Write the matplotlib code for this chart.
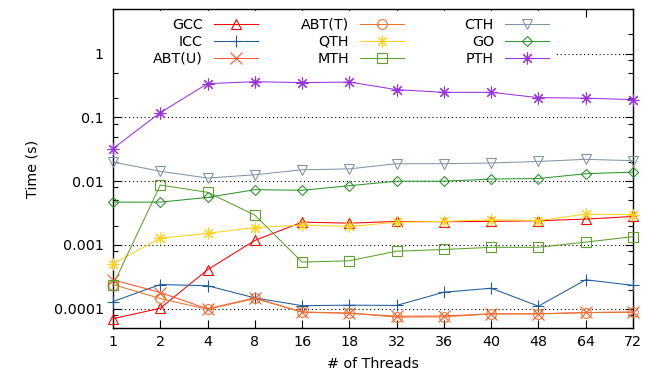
import matplotlib
matplotlib.use("Agg")
import matplotlib.pyplot as plt
from matplotlib.patches import Rectangle
from matplotlib.legend import Legend
from matplotlib.ticker import LogLocator, FixedLocator, NullFormatter
import numpy as np

threads = ['1', '2', '4', '8', '16', '18', '32', '36', '40', '48', '64', '72']

gcc = [7.0e-5, 1.02e-4, 4.1e-4, 1.18e-3, 2.28e-3, 2.2e-3, 2.34e-3, 2.32e-3, 2.34e-3, 2.4e-3, 2.55e-3, 2.8e-3]
icc = [1.3e-4, 2.4e-4, 2.3e-4, 1.48e-4, 1.12e-4, 1.14e-4, 1.13e-4, 1.82e-4, 2.1e-4, 1.1e-4, 2.85e-4, 2.33e-4]
abt_u = [2.85e-4, 1.8e-4, 1.0e-4, 1.48e-4, 8.85e-5, 8.5e-5, 7.65e-5, 7.7e-5, 8.35e-5, 8.35e-5, 8.75e-5, 8.85e-5]
abt_t = [2.4e-4, 1.45e-4, 9.8e-5, 1.45e-4, 8.9e-5, 8.6e-5, 7.4e-5, 7.5e-5, 8.3e-5, 8.3e-5, 8.7e-5, 8.9e-5]
qth = [5.1e-4, 1.28e-3, 1.52e-3, 1.88e-3, 2.05e-3, 1.95e-3, 2.28e-3, 2.34e-3, 2.49e-3, 2.41e-3, 3.05e-3, 2.98e-3]
mth = [2.34e-4, 8.7e-3, 6.7e-3, 2.94e-3, 5.4e-4, 5.66e-4, 8.0e-4, 8.5e-4, 9.2e-4, 9.2e-4, 1.11e-3, 1.35e-3]
cth = [2.0e-2, 1.43e-2, 1.12e-2, 1.26e-2, 1.51e-2, 1.56e-2, 1.88e-2, 1.88e-2, 1.93e-2, 2.04e-2, 2.2e-2, 2.1e-2]
go = [4.7e-3, 4.7e-3, 5.57e-3, 7.36e-3, 7.2e-3, 8.5e-3, 1.0e-2, 1.0e-2, 1.08e-2, 1.1e-2, 1.31e-2, 1.39e-2]
pth = [3.24e-2, 0.119, 0.338, 0.363, 0.351, 0.358, 0.272, 0.247, 0.247, 0.204, 0.2, 0.19]

series = [
    ("GCC", gcc, '#ff0000', '^'),
    ("ICC", icc, '#1f5c99', '+'),
    ("ABT(U)", abt_u, '#ff5533', 'x'),
    ("ABT(T)", abt_t, '#e8762c', 'o'),
    ("QTH", qth, '#ffd21f', (8, 2, 0)),
    ("MTH", mth, '#5da02e', 's'),
    ("CTH", cth, '#8494a8', 'v'),
    ("GO", go, '#2e962e', 'D'),
    ("PTH", pth, '#9933dd', (8, 2, 0)),
]

yticks = [1e-4, 1e-3, 1e-2, 1e-1, 1]
ytick_labels = ['0.0001', '0.001', '0.01', '0.1', '1']

FS = 10.3
plt.rcParams['font.family'] = 'DejaVu Sans'

fig = plt.figure(figsize=(6.46, 3.79), dpi=100)
ax = fig.add_axes([113/646, (379-328)/379, 520/646, 319/379])

x = np.arange(len(threads))
handles = []
for name, vals, col, mk in series:
    ms = 7.0
    if mk == 'D':
        ms = 5.6
    elif mk == 's':
        ms = 6.8
    elif mk in ('+', 'x'):
        ms = 8.0
    elif isinstance(mk, tuple):
        ms = 8.5
    h, = ax.plot(x, vals, color=col, marker=mk, markersize=ms,
                 markerfacecolor='none', markeredgecolor=col,
                 markeredgewidth=0.8, linewidth=0.75, clip_on=False,
                 zorder=3, label=name)
    handles.append(h)

ax.set_yscale('log')
ax.set_xlim(0, len(threads) - 1)
ax.set_ylim(5e-5, 5)
ax.set_xticks(x)
ax.set_xticklabels(threads, fontsize=FS)
ax.yaxis.set_major_locator(FixedLocator(yticks))
ax.set_yticklabels(ytick_labels, fontsize=FS)
ax.yaxis.set_minor_locator(LogLocator(base=10, subs=(2.0, 5.0, 8.0)))
ax.yaxis.set_minor_formatter(NullFormatter())
ax.tick_params(axis='both', which='both', direction='in', top=True, right=True,
               colors='black')
ax.tick_params(axis='both', which='major', length=6, width=0.8)
ax.tick_params(axis='y', which='minor', length=3.6, width=0.8)
ax.tick_params(axis='y', which='major', pad=6.5)
ax.tick_params(axis='x', which='major', pad=5)
for sp in ax.spines.values():
    sp.set_linewidth(1.0)

ax.set_axisbelow(True)
ax.yaxis.grid(True, which='major', color='black', linestyle=(0, (1, 2.5)), linewidth=0.8)

# opaque key background
ax.add_patch(Rectangle((0, (328-68)/319), (556-113)/520, (68-11)/319,
                       transform=ax.transAxes, facecolor='white',
                       edgecolor='none', zorder=1))

ax.set_xlabel('# of Threads', fontsize=FS, labelpad=6)
ax.set_ylabel('Time (s)', fontsize=FS, labelpad=10)

col_right = [258, 404, 549]
for ci in range(3):
    hs = handles[ci*3:(ci+1)*3]
    leg = Legend(ax, hs, [h.get_label() for h in hs],
                 loc='upper right',
                 bbox_to_anchor=((col_right[ci]-113)/520, (328-18)/319),
                 bbox_transform=ax.transAxes,
                 frameon=False, markerfirst=False, fontsize=FS,
                 handlelength=3.1, handletextpad=0.75, labelspacing=0.2,
                 borderpad=0, borderaxespad=0, numpoints=1)
    leg.set_zorder(4)
    ax.add_artist(leg)

fig.savefig('out.png', dpi=100)
